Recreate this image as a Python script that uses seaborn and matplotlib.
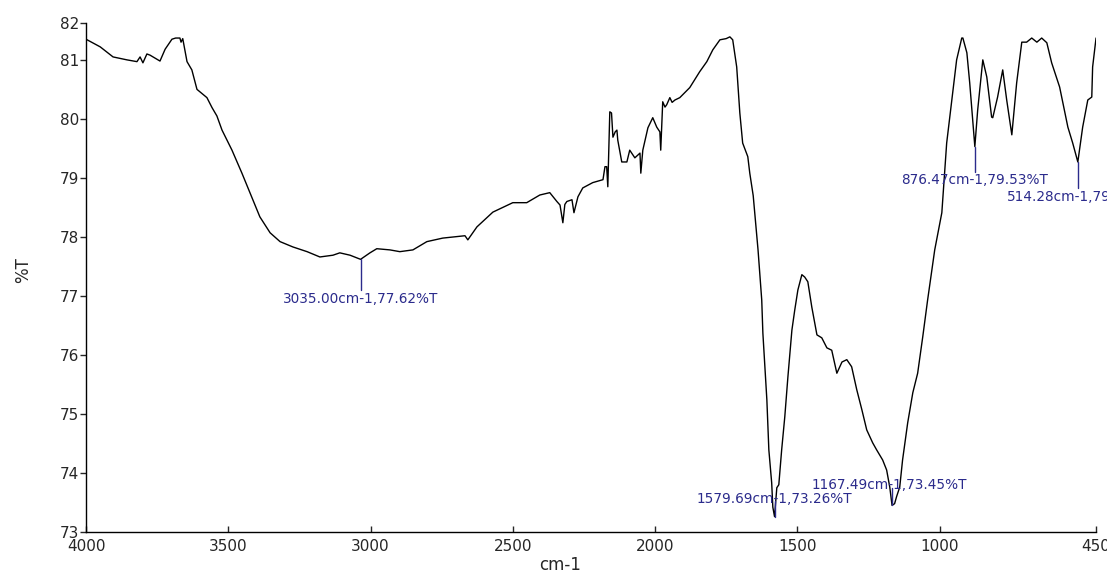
import numpy as np
import pandas as pd
import matplotlib
matplotlib.use("Agg")
import matplotlib.pyplot as plt
import seaborn as sns

# -----------------------------
# Spectrum data
# -----------------------------
wavenumber = [
    4000, 3950, 3905, 3856, 3821, 3810, 3800, 3786, 3775, 3747, 3740, 3722,
    3698, 3685, 3670, 3666, 3660, 3645, 3628, 3610, 3590, 3575, 3557, 3540,
    3522, 3487, 3452, 3424, 3389, 3353, 3318, 3273, 3223, 3178, 3132, 3108,
    3072, 3035, 3002, 2978, 2932, 2897, 2851, 2802, 2746, 2668, 2658, 2626,
    2570, 2500, 2451, 2405, 2370, 2345, 2334, 2324, 2317, 2310, 2292, 2285,
    2271, 2254, 2219, 2183, 2176, 2170, 2166, 2159, 2153, 2148, 2140, 2134,
    2131, 2117, 2099, 2089, 2071, 2053, 2050, 2043, 2025, 2008, 1994, 1983,
    1980, 1973, 1965, 1959, 1948, 1940, 1930, 1913, 1878, 1843, 1818, 1797,
    1772, 1750, 1737, 1727, 1713, 1702, 1692, 1674, 1667, 1655, 1638, 1632,
    1625, 1621, 1607, 1600, 1590, 1586, 1580, 1576, 1572, 1565, 1555, 1544,
    1533, 1519, 1509, 1498, 1484, 1474, 1463, 1449, 1431, 1414, 1396, 1379,
    1361, 1343, 1326, 1309, 1291, 1273, 1256, 1235, 1221, 1200, 1186, 1175,
    1167, 1158, 1151, 1140, 1130, 1112, 1094, 1077, 1059, 1042, 1017, 992,
    975, 957, 940, 922, 918, 904, 894, 876, 866, 848, 834, 817, 813, 796,
    778, 764, 746, 729, 711, 694, 676, 658, 641, 623, 606, 578, 549, 532,
    514, 497, 479, 465, 462, 450,
]
transmittance = [
    81.35, 81.22, 81.05, 81.00, 80.97, 81.05, 80.95, 81.10, 81.08, 81.00, 80.98, 81.18,
    81.35, 81.37, 81.37, 81.30, 81.36, 80.97, 80.83, 80.50, 80.42, 80.36, 80.19, 80.05,
    79.81, 79.47, 79.08, 78.75, 78.34, 78.07, 77.92, 77.83, 77.75, 77.66, 77.69, 77.73,
    77.69, 77.62, 77.73, 77.80, 77.78, 77.75, 77.78, 77.92, 77.98, 78.02, 77.95, 78.17,
    78.42, 78.58, 78.58, 78.71, 78.75, 78.60, 78.54, 78.24, 78.55, 78.60, 78.63, 78.41,
    78.68, 78.83, 78.92, 78.97, 79.19, 79.19, 78.85, 80.12, 80.10, 79.69, 79.78, 79.81,
    79.64, 79.27, 79.27, 79.47, 79.34, 79.42, 79.08, 79.47, 79.85, 80.02, 79.86, 79.78,
    79.47, 80.29, 80.20, 80.24, 80.36, 80.28, 80.32, 80.36, 80.53, 80.80, 80.97, 81.17,
    81.34, 81.36, 81.39, 81.34, 80.88, 80.10, 79.59, 79.36, 79.08, 78.70, 77.78, 77.39,
    76.93, 76.37, 75.24, 74.39, 73.83, 73.42, 73.26, 73.50, 73.75, 73.80, 74.39, 74.95,
    75.63, 76.42, 76.76, 77.10, 77.36, 77.32, 77.24, 76.81, 76.34, 76.29, 76.12, 76.08,
    75.69, 75.88, 75.92, 75.80, 75.41, 75.07, 74.73, 74.51, 74.39, 74.22, 74.05, 73.76,
    73.45, 73.48, 73.60, 73.76, 74.22, 74.85, 75.36, 75.69, 76.31, 76.93, 77.78, 78.41,
    79.59, 80.32, 81.00, 81.37, 81.37, 81.12, 80.61, 79.53, 80.15, 81.00, 80.71, 80.03, 80.02, 80.37,
    80.83, 80.32, 79.73, 80.61, 81.30, 81.30, 81.37, 81.30, 81.37, 81.29, 80.95, 80.54, 79.86, 79.59,
    79.27, 79.86, 80.32, 80.37, 80.88, 81.37,
]

# Peak labels
peak_x = [3035.00, 1579.69, 1167.49, 876.47, 514.28]
peak_y = [77.62, 73.26, 73.45, 79.53, 79.27]
peak_labels = [
    "3035.00cm-1,77.62%T",
    "1579.69cm-1,73.26%T",
    "1167.49cm-1,73.45%T",
    "876.47cm-1,79.53%T",
    "514.28cm-1,79",
]

x_ticks = [4000, 3500, 3000, 2500, 2000, 1500, 1000, 450]
y_ticks = [73, 74, 75, 76, 77, 78, 79, 80, 81, 81.63]
y_tick_labels = ["73", "74", "75", "76", "77", "78", "79", "80", "81", "82"]

df = pd.DataFrame({"cm-1": wavenumber, "%T": transmittance})

# -----------------------------
# Plot
# -----------------------------
sns.set_style("ticks")
plt.rcParams["font.family"] = ["DejaVu Sans"]

fig = plt.figure(figsize=(11.07, 5.73), dpi=100)
ax = fig.add_axes([0.0777, 0.0716, 0.9124, 0.8888])

sns.lineplot(data=df, x="cm-1", y="%T", color="black", linewidth=1.0,
             estimator=None, ax=ax)

ax.set_xlim(4000, 450)
ax.set_ylim(73, 81.63)
ax.set_xticks(x_ticks)
ax.set_xticklabels([str(t) for t in x_ticks])
ax.set_yticks(y_ticks)
ax.set_yticklabels(y_tick_labels)
ax.tick_params(axis="x", direction="in", length=4, width=1, labelsize=11, pad=5)
ax.tick_params(axis="y", direction="out", length=4, width=1, labelsize=11, pad=1)
sns.despine(ax=ax)
for s in ["left", "bottom"]:
    ax.spines[s].set_linewidth(1.0)
    ax.spines[s].set_color("black")

ax.set_xlabel("cm-1", fontsize=12)
ax.set_ylabel("%T", fontsize=12)
ax.xaxis.set_label_coords(0.469, -0.048)
ax.yaxis.set_label_coords(-0.053, 0.515)

# -----------------------------
# Peak annotations (blue)
# -----------------------------
blue = "#2b2b8c"
px_y = 1 / 59.0    # %T per pixel
px_x = 1 / 0.2846  # cm-1 per pixel
# (line length px downward, text offset px downward, text x shift px, align)
layout = [(31, 40, 0, "center"), (-16, -18, 0, "center"), (-17, -20, -3, "center"),
          (25, 33, 0, "center"), (26, 35, -71, "left")]
for x, y, lab, (ll, to, dx, ha) in zip(peak_x, peak_y, peak_labels, layout):
    ax.plot([x, x], [y, y - ll * px_y], color=blue, linewidth=1.0)
    ax.text(x - dx * px_x, y - to * px_y, lab, color=blue, fontsize=9.8,
            ha=ha, va="center", clip_on=False)

fig.savefig("out.png", dpi=100)
print("saved out.png")
